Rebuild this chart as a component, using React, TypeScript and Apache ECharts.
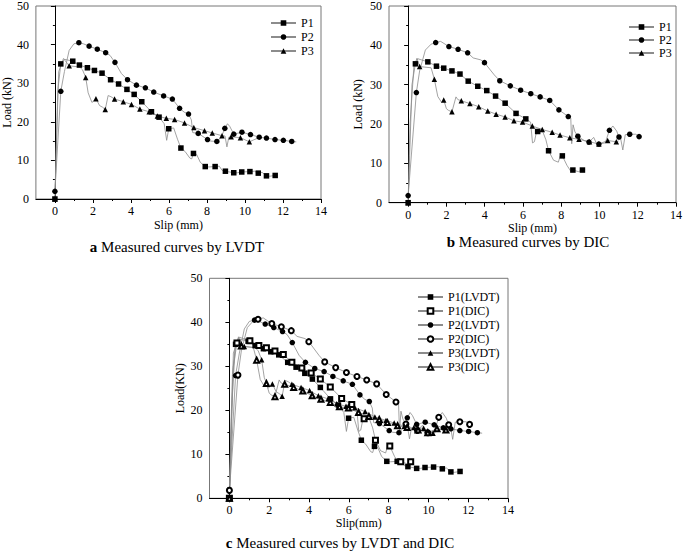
import React, { useEffect, useRef } from "react";
import * as echarts from "echarts";

type Pt = [number, number];

const FONT = "Liberation Serif";

const xTickValues = [0, 2, 4, 6, 8, 10, 12, 14];
const xMinorValues = [1, 3, 5, 7, 9, 11, 13];

// ---------- LVDT curves (marker points and extra path points) ----------
const p1LvdtMarks: Pt[] = [
  [0, 0], [0.31, 35.0], [0.94, 35.7], [1.29, 34.7], [1.71, 34.0], [2.08, 33.3], [2.48, 32.6],
  [2.93, 30.9], [3.35, 29.8], [3.79, 28.4], [4.17, 27.1], [4.57, 25.2], [5.08, 22.6], [5.48, 21.2],
  [5.99, 18.2], [6.63, 13.2], [7.29, 11.8], [7.91, 8.4], [8.43, 8.4], [8.97, 7.2], [9.41, 6.8],
  [9.83, 7.0], [10.26, 7.1], [10.7, 6.7], [11.13, 6.0], [11.59, 6.1],
];
const p1LvdtPath: Pt[] = [
  [0.06, 10], [0.15, 28], [0.5, 36.2], [5.75, 19.5], [5.88, 15.2], [6.25, 18.4], [6.45, 15.5],
  [6.85, 12.3], [7.1, 10.6], [7.2, 10.4], [7.45, 11.6], [7.65, 9.5], [8.1, 8.3], [8.65, 8.5],
  [8.8, 7.4], [9.6, 6.8], [10.5, 7.2], [10.9, 6.9], [11.3, 5.9],
];

const p2LvdtMarks: Pt[] = [
  [0, 2.0], [0.31, 27.9], [1.26, 40.5], [1.8, 39.6], [2.23, 38.8], [2.67, 37.9], [3.16, 35.4],
  [3.82, 30.9], [4.29, 29.5], [4.76, 28.8], [5.2, 27.7], [5.72, 26.7], [6.18, 25.9], [6.56, 23.5],
  [7.03, 22.0], [7.54, 17.0], [8.03, 15.4], [8.52, 14.9], [8.94, 18.3], [9.41, 16.8], [9.84, 17.3],
  [10.29, 16.7], [10.75, 16.0], [11.13, 15.8], [11.58, 15.4], [12.02, 15.2], [12.46, 14.9],
];
const p2LvdtPath: Pt[] = [
  [0.5, 33], [0.75, 38.5], [1.0, 40.2], [1.5, 40.2], [2.9, 37.2], [3.5, 32.5], [6.8, 22.5],
  [7.18, 20.5], [7.25, 17.2], [8.2, 15.0], [8.75, 16.0], [9.08, 19.5], [9.2, 18.8], [12.7, 14.8],
];

const p3LvdtMarks: Pt[] = [
  [0, 0], [0.75, 34.5], [1.62, 31.5], [2.16, 26.0], [2.65, 23.2], [3.14, 25.9], [3.6, 25.2],
  [4.03, 24.5], [4.47, 23.3], [4.96, 22.6], [5.39, 21.5], [5.86, 20.9], [6.3, 20.6], [6.82, 19.7],
  [7.31, 18.5], [7.87, 17.7], [8.28, 17.1], [8.79, 16.4], [9.27, 16.1], [9.76, 15.9], [10.23, 14.8],
];
const p3LvdtPath: Pt[] = [
  [0.05, 10], [0.2, 33], [0.45, 36.4], [1.3, 34.2], [1.45, 33.5], [1.75, 27.5], [1.95, 25.0],
  [2.35, 24.2], [2.5, 23.8], [2.8, 26.8], [2.95, 26.5], [8.95, 16.3], [9.05, 13.5], [9.15, 16.0],
  [10.45, 15.3], [10.7, 15.8],
];

// ---------- DIC curves ----------
const p1DicMarks: Pt[] = [
  [0, 0], [0.38, 35.3], [1.03, 35.8], [1.48, 34.7], [1.86, 34.2], [2.29, 33.5], [2.71, 32.7],
  [3.14, 30.9], [3.64, 29.6], [4.11, 28.5], [4.57, 27.1], [5.07, 25.3], [5.64, 22.7], [6.15, 21.3],
  [6.77, 18.1], [7.34, 13.2], [8.06, 11.9], [8.61, 8.3], [9.11, 8.3],
];
const p1DicPath: Pt[] = [
  [0.08, 12], [0.2, 30], [0.5, 36.6], [6.4, 20.5], [6.5, 15.2], [6.6, 15.5], [6.7, 17.8], [7.0, 18.5],
  [7.2, 16.0], [7.6, 10.8], [7.85, 10.3], [7.95, 11.9], [8.3, 9.5], [8.5, 8.0], [8.9, 7.9], [9.25, 8.4],
];

const p2DicMarks: Pt[] = [
  [0, 1.8], [0.43, 28.0], [1.44, 40.7], [2.13, 39.7], [2.61, 39.0], [3.11, 38.1], [3.99, 35.6],
  [4.79, 31.0], [5.34, 29.7], [5.88, 28.6], [6.41, 27.7], [6.9, 26.9], [7.4, 26.0], [7.88, 23.6],
  [8.37, 21.9], [8.87, 16.9], [9.45, 15.4], [9.97, 14.9], [10.52, 18.4], [11.02, 16.7],
  [11.58, 17.4], [12.07, 16.8],
];
const p2DicPath: Pt[] = [
  [0.6, 33.5], [0.9, 38.8], [1.2, 40.3], [1.7, 41.0], [3.4, 36.8], [3.8, 36.3], [4.5, 32.5],
  [8.5, 21.5], [8.55, 15.0], [8.62, 19.8], [8.72, 18.0], [9.2, 15.8], [9.7, 16.6], [9.85, 15.0],
  [10.3, 15.2], [10.7, 19.5], [10.9, 18.2], [11.1, 16.5], [11.22, 13.4], [11.35, 17.3],
  [11.9, 17.4], [12.2, 16.5],
];

const p3DicMarks: Pt[] = [
  [0, 0], [0.6, 34.6], [1.37, 31.4], [1.86, 26.1], [2.29, 23.1], [2.78, 25.9], [3.23, 25.2],
  [3.69, 24.4], [4.16, 23.3], [4.6, 22.5], [5.07, 21.8], [5.53, 20.8], [5.98, 20.5], [6.49, 19.5],
  [7.01, 18.6], [7.53, 17.9], [7.94, 17.2], [8.45, 16.5], [8.93, 16.1], [9.48, 15.5], [9.97, 14.9],
  [10.43, 15.8], [10.88, 15.5],
];
const p3DicPath: Pt[] = [
  [0.1, 20], [0.3, 34.5], [0.46, 36.7], [1.2, 34.3], [1.55, 27.0], [1.75, 25.5], [2.0, 23.9],
  [2.1, 23.5], [2.5, 26.9], [2.6, 26.2], [11.0, 15.7],
];

const namesA = ["P1", "P2", "P3"];
const namesC = ["P1(LVDT)", "P1(DIC)", "P2(LVDT)", "P2(DIC)", "P3(LVDT)", "P3(DIC)"];
const captions = [
  { bold: "a", text: " Measured curves by LVDT" },
  { bold: "b", text: " Measured curves by DIC" },
  { bold: "c", text: " Measured curves by LVDT and DIC" },
];

function mergeCurve(marks: Pt[], path: Pt[]) {
  const items = [
    ...marks.map((p) => ({ v: p, m: true })),
    ...path.map((p) => ({ v: p, m: false })),
  ].sort((a, b) => a.v[0] - b.v[0]);
  return items.map((it) => (it.m ? { value: it.v } : { value: it.v, symbol: "none" }));
}

const LINE_COLOR = "#8c8c8c";

function curveSeries(name: string, grid: number, marks: Pt[], path: Pt[], symbol: string) {
  const empty = symbol.startsWith("empty");
  return {
    type: "line",
    name,
    xAxisIndex: grid * 2,
    yAxisIndex: grid,
    data: mergeCurve(marks, path),
    symbol,
    symbolSize: empty ? 5 : 5.5,
    showSymbol: true,
    showAllSymbol: true,
    lineStyle: { color: LINE_COLOR, width: 0.8 },
    itemStyle: { color: "#000", borderColor: "#000", borderWidth: empty ? 1 : 0 },
    emphasis: { disabled: true },
    animation: false,
  };
}

const grids = [
  { left: 34, top: 2.5, width: 287, height: 196.5, xGap: 20, yGap: 20, xName: "Slip (mm)", yName: "Load (kN)" },
  { left: 389, top: 6, width: 291, height: 196.7, xGap: 18.5, yGap: 25, xName: "Slip (mm)", yName: "Load (kN)" },
  { left: 209.5, top: 278.3, width: 298.5, height: 220, xGap: 18.5, yGap: 23.5, xName: "Slip(mm)", yName: "Load(KN)" },
];

export default function App() {
  const ref = useRef<HTMLDivElement>(null);
  useEffect(() => {
    if (!ref.current) return;
    const chart = echarts.init(ref.current, undefined, { renderer: "svg" });
    const textBase = { fontFamily: FONT, fontSize: 12, color: "#000" };

    const xAxis: any[] = [];
    const yAxis: any[] = [];
    grids.forEach((g, i) => {
      xAxis.push({
        type: "value",
        gridIndex: i,
        min: -1,
        max: 14,
        position: "bottom",
        name: g.xName,
        nameLocation: "middle",
        nameGap: g.xGap,
        nameTextStyle: textBase,
        axisLine: { show: true, onZero: false, lineStyle: { color: "#000", width: 1 } },
        axisTick: { show: true, customValues: xTickValues, length: 4, lineStyle: { color: "#000" } },
        axisLabel: { show: true, customValues: xTickValues, margin: 6, ...textBase },
        splitLine: { show: false },
      });
      xAxis.push({
        type: "value",
        gridIndex: i,
        min: -1,
        max: 14,
        position: "bottom",
        axisLine: { show: false, onZero: false },
        axisTick: { show: true, customValues: xMinorValues, length: 2, lineStyle: { color: "#000" } },
        axisLabel: { show: false },
        splitLine: { show: false },
      });
      yAxis.push({
        type: "value",
        gridIndex: i,
        min: 0,
        max: 50,
        interval: 10,
        name: g.yName,
        nameLocation: "middle",
        nameGap: g.yGap,
        nameTextStyle: textBase,
        axisLine: { show: true, lineStyle: { color: "#000", width: 1 } },
        axisTick: { show: true, length: 4, lineStyle: { color: "#000" } },
        minorTick: { show: true, splitNumber: 2, length: 2, lineStyle: { color: "#000" } },
        axisLabel: { margin: 7, ...textBase },
        splitLine: { show: false },
      });
    });

    const series: any[] = [
      curveSeries("P1", 0, p1LvdtMarks, p1LvdtPath, "rect"),
      curveSeries("P2", 0, p2LvdtMarks, p2LvdtPath, "circle"),
      curveSeries("P3", 0, p3LvdtMarks, p3LvdtPath, "triangle"),
      curveSeries("P1", 1, p1DicMarks, p1DicPath, "rect"),
      curveSeries("P2", 1, p2DicMarks, p2DicPath, "circle"),
      curveSeries("P3", 1, p3DicMarks, p3DicPath, "triangle"),
      curveSeries(namesC[0], 2, p1LvdtMarks, p1LvdtPath, "rect"),
      curveSeries(namesC[1], 2, p1DicMarks, p1DicPath, "emptyRect"),
      curveSeries(namesC[2], 2, p2LvdtMarks, p2LvdtPath, "circle"),
      curveSeries(namesC[3], 2, p2DicMarks, p2DicPath, "emptyCircle"),
      curveSeries(namesC[4], 2, p3LvdtMarks, p3LvdtPath, "triangle"),
      curveSeries(namesC[5], 2, p3DicMarks, p3DicPath, "emptyTriangle"),
    ];

    const legendBase = {
      orient: "vertical",
      itemHeight: 7,
      itemWidth: 25,
      itemGap: 3,
      selectedMode: false,
      textStyle: textBase,
    };

    const captionPos = [
      { x: 177, y: 247 },
      { x: 528, y: 242 },
      { x: 340, y: 543 },
    ];

    chart.setOption({
      animation: false,
      backgroundColor: "#fff",
      grid: grids.map((g) => ({
        left: g.left,
        top: g.top,
        width: g.width,
        height: g.height,
        show: true,
        borderColor: "#777",
        borderWidth: 1,
        backgroundColor: "transparent",
        containLabel: false,
      })),
      xAxis,
      yAxis,
      legend: [
        { ...legendBase, left: 265, top: 12, itemGap: 2, data: namesA },
        { ...legendBase, left: 623, top: 16, itemGap: 1, data: namesA },
        { ...legendBase, left: 412, top: 286, itemGap: 2, data: namesC },
      ],
      graphic: captions.map((c, i) => ({
        type: "text",
        x: captionPos[i].x,
        y: captionPos[i].y,
        style: {
          text: `{b|${c.bold}}${c.text}`,
          fontFamily: FONT,
          fontSize: 15,
          fill: "#000",
          align: "center",
          textAlign: "center",
          verticalAlign: "middle",
          textVerticalAlign: "middle",
          rich: { b: { fontFamily: FONT, fontSize: 15, fontWeight: "bold", fill: "#000", color: "#000" } },
        },
      })),
      series,
    });
    return () => chart.dispose();
  }, []);
  return <div ref={ref} style={{ position: "fixed", left: 0, top: 0, width: 685, height: 551 }} />;
}
